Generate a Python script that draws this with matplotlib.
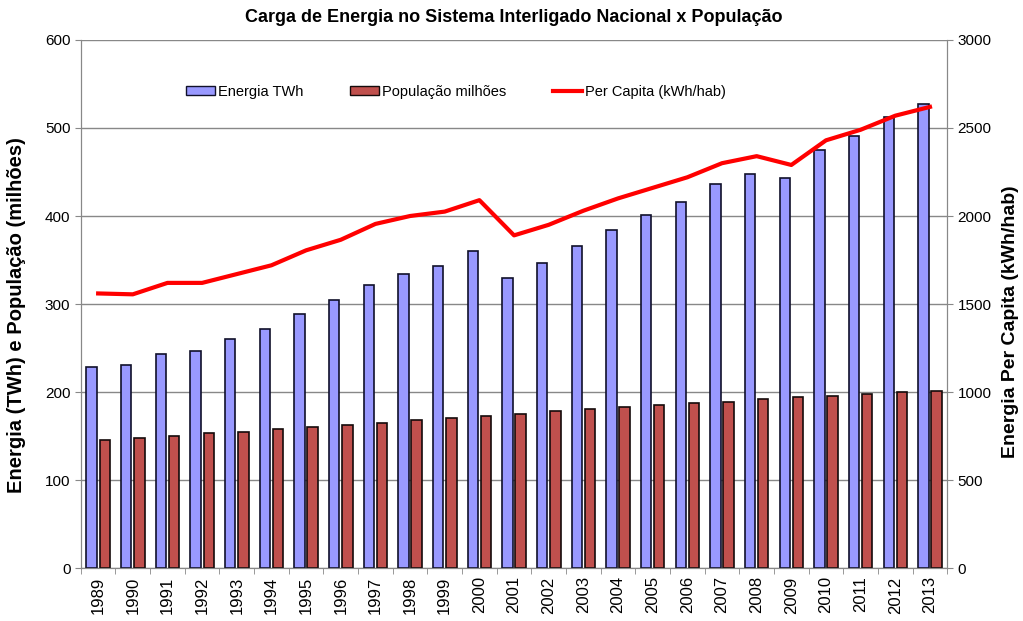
import numpy as np
import matplotlib.pyplot as plt
from matplotlib.patches import Patch
from matplotlib.lines import Line2D

plt.rcParams['font.family'] = ['Liberation Sans', 'DejaVu Sans']

anos = [str(a) for a in range(1989, 2014)]
energia = [228, 231, 243, 247, 260, 272, 289, 304, 322, 334, 343, 360, 330,
           347, 366, 384, 401, 416, 436, 448, 443, 475, 491, 513, 527]
populacao = [146, 148, 150, 153, 155, 158, 160, 163, 165, 168, 170, 173, 175,
             178, 181, 183, 185, 187, 189, 192, 194, 196, 198, 200, 201]
per_capita = [1560, 1555, 1620, 1620, 1670, 1720, 1805, 1865, 1955, 2000, 2025,
              2090, 1890, 1950, 2030, 2100, 2160, 2220, 2300, 2340, 2290, 2430,
              2490, 2570, 2620]

x = np.arange(len(anos))
w = 0.3

fig = plt.figure(figsize=(10.23, 6.21), dpi=100)
ax = fig.add_axes([0.079, 0.0853, 0.847, 0.8503])
ax2 = ax.twinx()

ax.bar(x - 0.19, energia, w, color='#9999FF', edgecolor='#10102a', linewidth=1.2, zorder=3)
ax.bar(x + 0.19, populacao, w, color='#C0504D', edgecolor='#140a0a', linewidth=1.2, zorder=3)
ax2.plot(x, per_capita, color='#FF0000', linewidth=3, zorder=4)

ax.set_xlim(-0.5, len(anos) - 0.5)
ax.set_ylim(0, 600)
ax2.set_ylim(0, 3000)
ax.set_yticks(range(0, 601, 100))
ax2.set_yticks(range(0, 3001, 500))
ax.yaxis.grid(True, color='#888888', linewidth=1, zorder=0)
ax.set_axisbelow(True)

ax.set_xticks(x)
ax.set_xticklabels(anos, rotation=90, fontsize=12)
ax.set_xticks(np.arange(-0.5, len(anos)), minor=True)
ax.tick_params(axis='x', which='major', length=0, pad=6)
ax.tick_params(axis='x', which='minor', length=4, color='#888888')
ax.tick_params(axis='y', labelsize=11, length=4, color='#888888')
ax2.tick_params(axis='y', labelsize=11, length=4, color='#888888')

for a in (ax, ax2):
    for s in a.spines.values():
        s.set_color('#888888')
    a.spines['top'].set_visible(False)

ax.set_ylabel('Energia (TWh) e População (milhões)', fontsize=14.5, fontweight='bold')
ax2.set_ylabel('Energia Per Capita (kWh/hab)', fontsize=14, fontweight='bold')
ax.yaxis.set_label_coords(-0.063, 0.48)
ax2.yaxis.set_label_coords(1.063, 0.467)
ax.set_title('Carga de Energia no Sistema Interligado Nacional x População',
             fontsize=13, fontweight='bold', pad=13)

handles = [Patch(facecolor='#9999FF', edgecolor='#10102a'),
           Patch(facecolor='#C0504D', edgecolor='#140a0a'),
           Line2D([], [], color='#FF0000', linewidth=3)]
labels = ['Energia TWh', 'População milhões', 'Per Capita (kWh/hab)']
ax2.legend(handles, labels, loc='upper center', bbox_to_anchor=(0.433, 0.94), ncol=3,
           frameon=False, fontsize=10.5, handlelength=2.0, handleheight=0.5,
           handletextpad=0.2, columnspacing=3.2)

plt.savefig('out.png')
